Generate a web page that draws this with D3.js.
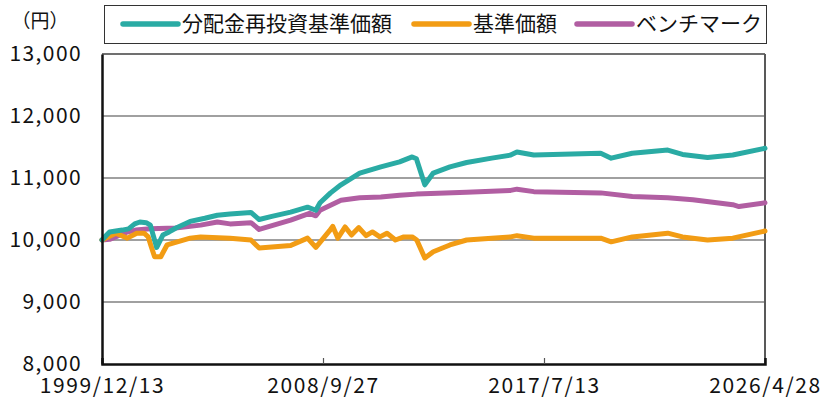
<!DOCTYPE html>
<html>
<head>
<meta charset="utf-8">
<script src="https://cdn.jsdelivr.net/npm/d3@7"></script>
<style>
  body { margin: 0; background: #fff; }
  svg { display: block; font-family: "Noto Sans CJK JP", "Noto Sans", sans-serif; }
</style>
</head>
<body>
<svg id="chart" width="825" height="401"></svg>
<script>
const W = 825, H = 401;
const margin = { left: 102, right: 60, top: 54, bottom: 37 };

// series values
const reinvest = [
  ['1999-12-13', 10000], ['2000-02-01', 10060], ['2000-04-01', 10130], ['2000-10-01', 10160], ['2001-01-01', 10180],
  ['2001-04-01', 10260], ['2001-06-15', 10290], ['2001-09-15', 10280], ['2001-11-15', 10240],
  ['2001-12-20', 10100], ['2002-02-15', 9880], ['2002-05-15', 10080], ['2002-08-15', 10130],
  ['2002-11-15', 10190], ['2003-06-15', 10300], ['2004-01-15', 10350], ['2004-07-15', 10400],
  ['2005-01-15', 10420], ['2005-11-15', 10445], ['2006-03-15', 10330], ['2006-09-15', 10380],
  ['2007-06-15', 10450], ['2008-02-15', 10530], ['2008-06-15', 10480], ['2008-08-15', 10600],
  ['2009-01-15', 10760], ['2009-06-15', 10890], ['2010-03-15', 11080], ['2011-01-15', 11180], ['2011-10-15', 11260],
  ['2012-04-15', 11340], ['2012-06-15', 11310], ['2012-10-15', 10890], ['2013-02-15', 11080],
  ['2013-10-15', 11180], ['2014-06-15', 11250], ['2015-06-15', 11320], ['2016-03-15', 11370], ['2016-06-15', 11420], ['2017-02-15', 11370],
  ['2019-10-15', 11400], ['2020-03-15', 11320], ['2021-01-15', 11400], ['2022-06-15', 11450],
  ['2023-01-15', 11380], ['2024-01-15', 11330], ['2025-01-15', 11370], ['2026-04-28', 11480]
];

const nav = [
  ['1999-12-13', 10000], ['2000-07-01', 10110], ['2000-12-15', 10030], ['2001-05-01', 10110],
  ['2001-08-15', 10110], ['2001-10-15', 10050], ['2001-11-20', 9920], ['2002-01-15', 9730],
  ['2002-04-15', 9730], ['2002-07-15', 9920], ['2003-06-15', 10030], ['2003-11-15', 10050],
  ['2005-01-15', 10030], ['2005-11-15', 10000], ['2006-03-15', 9870], ['2007-06-15', 9910],
  ['2008-02-15', 10030], ['2008-06-15', 9880], ['2009-01-01', 10150], ['2009-02-15', 10220],
  ['2009-05-01', 10030], ['2009-08-15', 10210], ['2009-11-15', 10080], ['2010-03-01', 10200],
  ['2010-06-15', 10070], ['2010-09-15', 10130], ['2011-01-01', 10050], ['2011-04-15', 10110],
  ['2011-08-15', 10000], ['2011-12-15', 10050], ['2012-04-15', 10050], ['2012-06-20', 10000],
  ['2012-10-15', 9710], ['2013-02-15', 9810], ['2013-10-15', 9920], ['2014-06-15', 10000], ['2015-06-15', 10030], ['2016-03-15', 10050],
  ['2016-06-15', 10070], ['2017-02-15', 10030], ['2019-10-15', 10030], ['2020-03-15', 9970],
  ['2021-01-15', 10050], ['2022-06-15', 10110], ['2023-01-15', 10050], ['2024-01-15', 10000],
  ['2025-01-15', 10030], ['2026-04-28', 10145]
];

const bench = [
  ['1999-12-13', 10000], ['2000-04-01', 10010], ['2000-12-15', 10130], ['2001-04-15', 10160],
  ['2001-11-15', 10180], ['2002-11-15', 10195], ['2003-11-15', 10240], ['2004-07-15', 10290],
  ['2005-01-15', 10260], ['2005-11-15', 10280], ['2006-03-15', 10170], ['2007-06-15', 10320],
  ['2008-03-15', 10430], ['2008-06-15', 10390], ['2008-08-15', 10480], ['2009-06-15', 10640],
  ['2010-03-15', 10680], ['2011-01-15', 10695], ['2011-10-15', 10720], ['2012-06-15', 10740],
  ['2014-06-15', 10770], ['2016-03-15', 10800], ['2016-06-15', 10820], ['2017-02-15', 10780],
  ['2019-10-15', 10760], ['2021-01-15', 10700], ['2022-06-15', 10680], ['2023-06-15', 10650],
  ['2025-01-15', 10570], ['2025-04-15', 10540], ['2026-04-28', 10600]
];

const seriesNames = ['分配金再投資基準価額', '基準価額', 'ベンチマーク'];
const seriesColors = ['#2aaba4', '#f29c14', '#b15ea2'];
const xTickLabels = ['1999/12/13', '2008/9/27', '2017/7/13', '2026/4/28'];
const yTicks = [8000, 9000, 10000, 11000, 12000, 13000];

const parse = d3.timeParse('%Y-%m-%d');
const parseTick = d3.timeParse('%Y/%m/%d');
const allSeries = [reinvest, nav, bench].map(s => s.map(([d, v]) => ({ date: parse(d), value: v })));
const tickDates = xTickLabels.map(parseTick);

const svg = d3.select('#chart');

const x = d3.scaleTime()
  .domain([tickDates[0], tickDates[3]])
  .range([margin.left, W - margin.right]);
const y = d3.scaleLinear()
  .domain([8000, 13000])
  .range([H - margin.bottom, margin.top]);

const x0 = x.range()[0], x1 = x.range()[1];

// gridlines
svg.append('g').selectAll('line')
  .data(yTicks.slice(1, -1))
  .join('line')
  .attr('x1', x0).attr('x2', x1)
  .attr('y1', d => y(d)).attr('y2', d => y(d))
  .attr('stroke', '#808080').attr('stroke-width', 1.3);

// frame: top and right
svg.append('line').attr('x1', x0).attr('x2', x1).attr('y1', y(13000)).attr('y2', y(13000))
  .attr('stroke', '#404040').attr('stroke-width', 1.5);
svg.append('line').attr('x1', x1).attr('x2', x1).attr('y1', y(13000)).attr('y2', y(8000))
  .attr('stroke', '#595959').attr('stroke-width', 2);

// lines
const line = d3.line().x(d => x(d.date)).y(d => y(d.value));
svg.append('g').selectAll('path')
  .data(allSeries.slice().reverse())
  .join('path')
  .attr('d', line)
  .attr('fill', 'none')
  .attr('stroke', (d, i) => seriesColors[2 - i])
  .attr('stroke-width', 5)
  .attr('stroke-linejoin', 'round')
  .attr('stroke-linecap', 'round');

// x axis
const xAxis = svg.append('g')
  .attr('transform', `translate(0,${y(8000)})`)
  .call(d3.axisBottom(x).tickValues(tickDates).tickFormat((d, i) => xTickLabels[i])
    .tickSize(-6).tickPadding(14));
xAxis.select('.domain').attr('stroke', '#111').attr('stroke-width', 2.5);
xAxis.selectAll('.tick line').attr('stroke', '#555').attr('stroke-width', 1.2)
  .filter((d, i) => i === 0 || i === 3).remove();
xAxis.selectAll('text').attr('font-size', 21).attr('fill', '#111')
  .attr('font-family', '"Noto Sans CJK JP", sans-serif').style('letter-spacing', '1.6px');

// y axis
const yAxis = svg.append('g')
  .attr('transform', `translate(${x0},0)`)
  .call(d3.axisLeft(y).tickValues(yTicks).tickFormat(d3.format(',')).tickSize(0).tickPadding(20));
yAxis.select('.domain').attr('stroke', '#111').attr('stroke-width', 2.5);
yAxis.selectAll('text').attr('font-size', 21).attr('fill', '#111')
  .attr('font-family', '"Noto Sans CJK JP", sans-serif').style('letter-spacing', '1.4px');

svg.append('text').attr('x', 40).attr('y', 23).attr('text-anchor', 'middle')
  .attr('dominant-baseline', 'middle').attr('font-size', 19).attr('fill', '#111')
  .text('（円）');

// legend
svg.append('rect').attr('x', 104.5).attr('y', 5.5).attr('width', 662).attr('height', 38)
  .attr('fill', '#fff').attr('stroke', '#333').attr('stroke-width', 1);
const legendX = [123, 414, 577];
const leg = svg.append('g').selectAll('g').data(seriesNames).join('g')
  .attr('transform', (d, i) => `translate(${legendX[i]},24)`);
leg.append('line').attr('x1', 0).attr('x2', 55).attr('y1', 0).attr('y2', 0)
  .attr('stroke', (d, i) => seriesColors[i]).attr('stroke-width', 5.5).attr('stroke-linecap', 'round');
leg.append('text').attr('x', 59).attr('y', 1).attr('dominant-baseline', 'middle')
  .attr('font-size', 21).attr('fill', '#111').text(d => d);
</script>
</body>
</html>
